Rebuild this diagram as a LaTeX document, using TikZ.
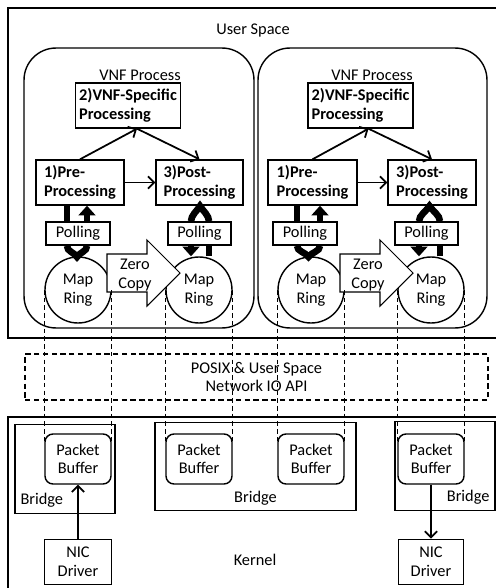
\documentclass[tikz,border=0pt]{standalone}
\usepackage{fontspec}
\setmainfont{Carlito}
\usepackage{tikz}
\usetikzlibrary{positioning, arrows.meta}

\tikzset{
  vnfbox/.style={rectangle, draw, line width=0.8pt, rounded corners=0.64cm, minimum height=5.6cm},
  procbox/.style={rectangle, draw, line width=0.8pt, fill=white, align=left, inner sep=2pt, minimum height=0.9cm, font=\fontsize{9.3pt}{10.5pt}\selectfont\bfseries},
  pollbox/.style={rectangle, draw, line width=0.8pt, fill=white, minimum height=0.46cm, inner sep=1pt},
  ringnode/.style={circle, draw, line width=0.8pt, fill=white, minimum size=1.32cm, inner sep=0pt, align=center},
  bufbox/.style={rectangle, draw, line width=0.8pt, rounded corners=0.16cm, minimum width=1.32cm, minimum height=1.0cm, align=center, inner sep=1pt},
  bridgebox/.style={rectangle, draw, line width=0.8pt, minimum height=1.77cm},
  nicbox/.style={rectangle, draw, line width=0.8pt, minimum height=0.9cm, align=center, inner sep=1pt},
  apibox/.style={rectangle, draw, line width=0.7pt, dash pattern=on 3pt off 2pt, align=center, minimum width=9.26cm, minimum height=0.92cm},
  flow/.style={line width=1pt, -{Straight Barb[length=3.5pt, width=7pt]}},
  pollline/.style={line width=3.8pt},
  polltip/.style={pollline, -{Triangle[length=5.5pt, width=9.5pt]}},
  maplink/.style={line width=0.75pt, dash pattern=on 2.6pt off 1.8pt},
  zerocopy/.style={draw, line width=0.6pt, fill=white}
}

\begin{document}
\begin{tikzpicture}[x=0.02cm, y=-0.02cm, font=\fontsize{9.3pt}{10.5pt}\selectfont]
\useasboundingbox (0,0) rectangle (496,588);

% user space
\draw[line width=0.8pt] (496,8) -- (8,8) -- (8,338) -- (496,338);
\node (user) at (253,31) {User Space};

\node [vnfbox, minimum width=4.6cm] (vnf1) at (139,188) {};
\node [vnfbox, minimum width=4.58cm] (vnf2) at (372.5,188) {};
\node (vnflbl1) at (140,75) {VNF Process};
\node (vnflbl2) at (372,75) {VNF Process};

% left VNF
\node [procbox, minimum width=1.92cm] (spec1) at (128,105.5) {2)VNF-Specific\\Processing};
\node [procbox, minimum width=1.76cm] (pre1) at (80,182.5) {1)Pre-\\Processing};
\node [procbox, minimum width=1.74cm] (post1) at (199.5,182.5) {3)Post-\\Processing};
\node [pollbox, minimum width=1.28cm] (poll1) at (78,233.5) {Polling};
\node [pollbox, minimum width=1.26cm] (poll2) at (199.5,233.5) {Polling};
\node [ringnode] (ring1) at (78,290) {Map\\Ring};
\node [ringnode] (ring2) at (199,290) {Map\\Ring};

% right VNF
\node [procbox, minimum width=1.9cm] (spec2) at (360.5,105.5) {2)VNF-Specific\\Processing};
\node [procbox, minimum width=1.78cm] (pre2) at (312.5,182.5) {1)Pre-\\Processing};
\node [procbox, minimum width=1.76cm] (post2) at (432,182.5) {3)Post-\\Processing};
\node [pollbox, minimum width=1.28cm] (poll3) at (305,233.5) {Polling};
\node [pollbox, minimum width=1.26cm] (poll4) at (426.5,233.5) {Polling};
\node [ringnode] (ring3) at (311,290) {Map\\Ring};
\node [ringnode] (ring4) at (431,290) {Map\\Ring};

\coordinate (sp1) at ([xshift=0.18cm]spec1.south);
\coordinate (sp2) at ([xshift=0.16cm]spec2.south);
\draw [flow] (pre1.north) -- (sp1);
\draw [flow] (sp1) -- (post1.north);
\draw [flow] (pre1.east) -- (post1.west);
\draw [flow] (pre2.north) -- (sp2);
\draw [flow] (sp2) -- (post2.north);
\draw [flow] (pre2.east) -- (post2.west);

% polling loops
\coordinate (lp1) at (67,0);
\coordinate (rp1) at (87,0);
\coordinate (lq1) at (191,0);
\coordinate (rq1) at (209,0);
\coordinate (lp2) at (297,0);
\coordinate (rp2) at (320,0);
\coordinate (lq2) at (419,0);
\coordinate (rq2) at (440,0);
\coordinate (vp1) at (77,257);
\coordinate (vp2) at (308.5,257);
\coordinate (vq1) at (200,206);
\coordinate (vq2) at (429.5,206);

\draw [pollline] (lp1 |- pre1.south) -- (lp1 |- poll1.north);
\draw [polltip] (rp1 |- poll1.north) -- (rp1 |- pre1.south);
\draw [pollline] (lp1 |- poll1.south) .. controls +(0,6) and +(-3,-5) .. (vp1) .. controls +(3,-5) and +(0,6) .. (rp1 |- poll1.south);
\draw [pollline] (rq1 |- ring2.north) -- (rq1 |- poll2.south);
\draw [pollline] (rq1 |- poll2.north) .. controls +(0,-6) and +(3,5) .. (vq1) .. controls +(-3,5) and +(0,-6) .. (lq1 |- poll2.north);
\draw [polltip] (lq1 |- poll2.south) -- (lq1 |- ring2.north);

\draw [pollline] (lp2 |- pre2.south) -- (lp2 |- poll3.north);
\draw [polltip] (rp2 |- poll3.north) -- (rp2 |- pre2.south);
\draw [pollline] (lp2 |- poll3.south) .. controls +(0,6) and +(-3,-5) .. (vp2) .. controls +(3,-5) and +(0,6) .. (rp2 |- poll3.south);
\draw [pollline] (rq2 |- ring4.north) -- (rq2 |- poll4.south);
\draw [pollline] (rq2 |- poll4.north) .. controls +(0,-6) and +(3,5) .. (vq2) .. controls +(-3,5) and +(0,-6) .. (lq2 |- poll4.north);
\draw [polltip] (lq2 |- poll4.south) -- (lq2 |- ring4.north);

% zero copy
\draw [zerocopy] (107,254) -- (147,254) -- (147,240) -- (180,273) -- (147,306) -- (147,292) -- (107,292) -- cycle;
\node [align=center] (zc1) at (135,275) {Zero\\Copy};
\draw [zerocopy] (340,254) -- (380,254) -- (380,240) -- (413,273) -- (380,306) -- (380,292) -- (340,292) -- cycle;
\node [align=center] (zc2) at (368,275) {Zero\\Copy};

% api layer
\node [apibox] (api) at (256.5,377) {POSIX \& User Space\\Network IO API};

% kernel
\draw[line width=0.8pt] (496,417) -- (8,417) -- (8,588);
\node (kernel) at (255,560) {Kernel};

\node [bridgebox, minimum width=2cm] (bridge1) at (65,469) {};
\node [bridgebox, minimum width=4.02cm] (bridge2) at (255.5,466.5) {};
\node [bridgebox, minimum width=2cm] (bridge3) at (445,466) {};
\node [anchor=south west] (brlbl1) at (bridge1.south west) {Bridge};
\node [anchor=south] (brlbl2) at (bridge2.south) {Bridge};
\node [anchor=south east] (brlbl3) at (bridge3.south east) {Bridge};

\node [bufbox] (buf1) at (78,459) {Packet\\Buffer};
\node [bufbox] (buf2) at (199,459) {Packet\\Buffer};
\node [bufbox] (buf3) at (311,459) {Packet\\Buffer};
\node [bufbox] (buf4) at (431,459) {Packet\\Buffer};

\node [nicbox, minimum width=1.34cm, below=1.08cm of buf1] (nic1) {NIC\\Driver};
\node [nicbox, minimum width=1.3cm, below=1.08cm of buf4] (nic2) {NIC\\Driver};

\draw [flow] (nic1) -- (buf1);
\draw [flow] (buf4) -- (nic2);

% ring to buffer mappings
\draw [maplink] (ring1.west) -- ([yshift=-0.16cm]buf1.north west);
\draw [maplink] (ring1.east) -- ([yshift=-0.16cm]buf1.north east);
\draw [maplink] (ring2.west) -- ([yshift=-0.16cm]buf2.north west);
\draw [maplink] (ring2.east) -- ([yshift=-0.16cm]buf2.north east);
\draw [maplink] (ring3.west) -- ([yshift=-0.16cm]buf3.north west);
\draw [maplink] (ring3.east) -- ([yshift=-0.16cm]buf3.north east);
\draw [maplink] (ring4.west) -- ([yshift=-0.16cm]buf4.north west);
\draw [maplink] (ring4.east) -- ([yshift=-0.16cm]buf4.north east);

\end{tikzpicture}
\end{document}
